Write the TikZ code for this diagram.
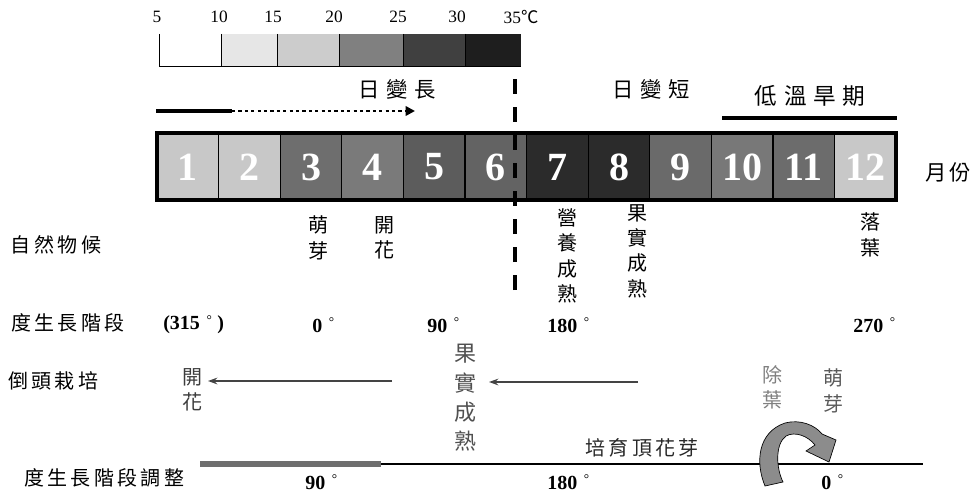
\documentclass[tikz,border=0pt]{standalone}
\usepackage{fontspec}
\setmainfont{Liberation Serif}
\newfontfamily\cjk{Noto Sans CJK TC}
\usetikzlibrary{arrows.meta}
\newcommand\mygap{\hspace{2.5pt}}
\newcommand\biggap{\hspace{5pt}}
\newcommand\dg{\hspace{5pt}\raisebox{4pt}{\mdseries\fontsize{10}{10}\selectfont °}}
\definecolor{t10}{HTML}{E6E6E6}
\definecolor{t15}{HTML}{CCCCCC}
\definecolor{t20}{HTML}{808080}
\definecolor{t25}{HTML}{404040}
\definecolor{t30}{HTML}{1E1E1E}
\definecolor{m1}{HTML}{C8C8C8}
\definecolor{m2}{HTML}{C8C8C8}
\definecolor{m3}{HTML}{6E6E6E}
\definecolor{m4}{HTML}{7A7A7A}
\definecolor{m5}{HTML}{5C5C5C}
\definecolor{m6}{HTML}{636363}
\definecolor{m7}{HTML}{2B2B2B}
\definecolor{m8}{HTML}{2B2B2B}
\definecolor{m9}{HTML}{6A6A6A}
\definecolor{m10}{HTML}{787878}
\definecolor{m11}{HTML}{6C6C6C}
\definecolor{m12}{HTML}{C8C8C8}
\begin{document}
\begin{tikzpicture}[x=0.75pt,y=-0.75pt,
  lab/.style={font=\cjk\fontsize{15}{16}\selectfont, inner sep=0pt},
  biglab/.style={font=\cjk\fontsize{16}{18}\selectfont, inner sep=0pt},
  vert/.style={font=\cjk\fontsize{15}{19}\selectfont, align=center, inner sep=0pt},
  vertb/.style={font=\cjk\fontsize{16.5}{22}\selectfont, align=center, inner sep=0pt},
  num/.style={font=\bfseries\fontsize{30}{30}\selectfont, text=white, inner sep=0pt},
  deg/.style={font=\bfseries\fontsize{15}{15}\selectfont, inner sep=0pt, anchor=west},
  tnum/.style={font=\fontsize{13}{13}\selectfont, inner sep=0pt},
  tline/.style={line width=0.75pt},
  harrow/.style={line width=1.2pt, draw={rgb,255:red,68;green,68;blue,68}, -{Stealth[length=7pt,width=5pt]}}
]
\useasboundingbox (0,0) rectangle (973,495);

% temperature scale
\fill[t10] (221,34) rectangle (277,67);
\fill[t15] (277,34) rectangle (339,67);
\fill[t20] (339,34) rectangle (403,67);
\fill[t25] (403,34) rectangle (465,67);
\fill[t30] (465,34) rectangle (521,67);
\draw[tline] (159,34) -- (159,67) -- (521,67);
\foreach \x in {221,277,339,403,465} \draw[tline] (\x,34) -- (\x,67);
\node[tnum] (t5) at (157,17) {5};
\node[tnum] (t10) at (219,17) {10};
\node[tnum] (t15) at (273,17) {15};
\node[tnum] (t20) at (334,17) {20};
\node[tnum] (t25) at (398,17) {25};
\node[tnum] (t30) at (457,17) {30};
\node[tnum] (t35) at (521,17) {35{\cjk ℃}};

% day length
\node[biglab] (dlong) at (397,89) {日\biggap 變\biggap 長};
\node[biglab] (dshort) at (651,89) {日\biggap 變\biggap 短};
\node[font=\cjk\fontsize{17}{18}\selectfont, inner sep=0pt] (dry) at (810,96) {低\biggap 溫\biggap 旱\biggap 期};
\coordinate (s0) at (156,111);
\coordinate (s1) at (232,111);
\coordinate (s2) at (415,111);
\draw[line width=3pt] (s0) -- (s1);
\draw[line width=2.2pt, dash pattern=on 2.4pt off 2.4pt, -{Triangle[length=7pt,width=7pt]}] (s1) -- (s2);
\coordinate (d0) at (722,118);
\coordinate (d1) at (897,118);
\draw[line width=2.4pt] (d0) -- (d1);

% month bar
\foreach \i in {1,...,12} {
  \fill[m\i] ({157+(\i-1)*61.6},133) rectangle ({157+\i*61.6},200);
  \node[num] (m\i) at ({157+(\i-0.5)*61.6},167) {\i};
}
\foreach \i in {1,...,11} \draw[line width=0.8pt] ({157+\i*61.6},133) -- ({157+\i*61.6},200);
\draw[line width=2.4pt] (157,133) rectangle (896,200);
\node[lab, font=\cjk\fontsize{16}{16}\selectfont] (month) at (948,172) {月\mygap 份};

% dashed divider
\coordinate (dtop) at (515,67);
\coordinate (dbot) at (515,290);
\draw[line width=3pt, dash pattern=on 11pt off 10pt] (dbot) -- (dtop);

% row labels
\node[lab] (nat) at (56,245) {自\mygap 然\mygap 物\mygap 候};
\node[lab] (stage) at (68,323) {度\mygap 生\mygap 長\mygap 階\mygap 段};
\node[lab] (inv) at (53,381) {倒\mygap 頭\mygap 栽\mygap 培};
\node[lab] (adj) at (104,478) {度\mygap 生\mygap 長\mygap 階\mygap 段\mygap 調\mygap 整};

% phenology
\node[vert] (p1) at (318,238) {萌\\芽};
\node[vert] (p2) at (384,238) {開\\花};
\node[vert] (p3) at (567,256) {營\\養\\成\\熟};
\node[vert] (p4) at (637,251) {果\\實\\成\\熟};
\node[vert] (p5) at (870,235) {落\\葉};

% degree row
\node[deg] (g315) at (163,325) {(315\dg\hspace{4pt})};
\node[deg] (g0) at (312,325) {0\dg};
\node[deg] (g90) at (427,325) {90\dg};
\node[deg] (g180) at (547,325) {180\dg};
\node[deg] (g270) at (853,325) {270\dg};

% inverted cultivation
\node[vert, text={rgb,255:red,60;green,60;blue,60}] (b1) at (192,390) {開\\花};
\node[vertb, text={rgb,255:red,80;green,80;blue,80}] (b2) at (465,398) {果\\實\\成\\熟};
\coordinate (a1s) at (392,381);
\coordinate (a1e) at (208,381);
\coordinate (a2s) at (638,382);
\coordinate (a2e) at (489,382);
\draw[harrow] (a1s) -- (a1e);
\draw[harrow] (a2s) -- (a2e);
\node[vert, text={rgb,255:red,128;green,128;blue,128}] (b3) at (772,387) {除\\葉};
\node[vert, text={rgb,255:red,90;green,90;blue,90}] (b4) at (833,391) {萌\\芽};

% adjusted stage line
\coordinate (l0) at (200,464);
\coordinate (l1) at (923,464);
\coordinate (l2) at (381,464);
\draw[line width=0.8pt] (l0) -- (l1);
\draw[line width=4.5pt, draw={rgb,255:red,110;green,110;blue,110}] (l0) -- (l2);
\node[lab, font=\cjk\fontsize{15}{16}\selectfont, text={rgb,255:red,40;green,40;blue,40}] (bud) at (642,448) {培\mygap 育\mygap 頂\mygap 花\mygap 芽};
\node[deg] (h90) at (305,482) {90\dg};
\node[deg] (h180) at (547,482) {180\dg};
\node[deg] (h0) at (821,482) {0\dg};

% curved block arrow
\path[fill={rgb,255:red,140;green,140;blue,140}, draw=black, line width=0.5pt]
  (765,486) .. controls (755,462) and (758,432) .. (785,423)
  .. controls (800,419) and (815,425) .. (822,434)
  -- (836,440) -- (829,462) -- (806,451) -- (815,445)
  .. controls (808,436) and (795,431) .. (786,436)
  .. controls (775,444) and (776,468) .. (783,482) -- cycle;
\end{tikzpicture}
\end{document}
